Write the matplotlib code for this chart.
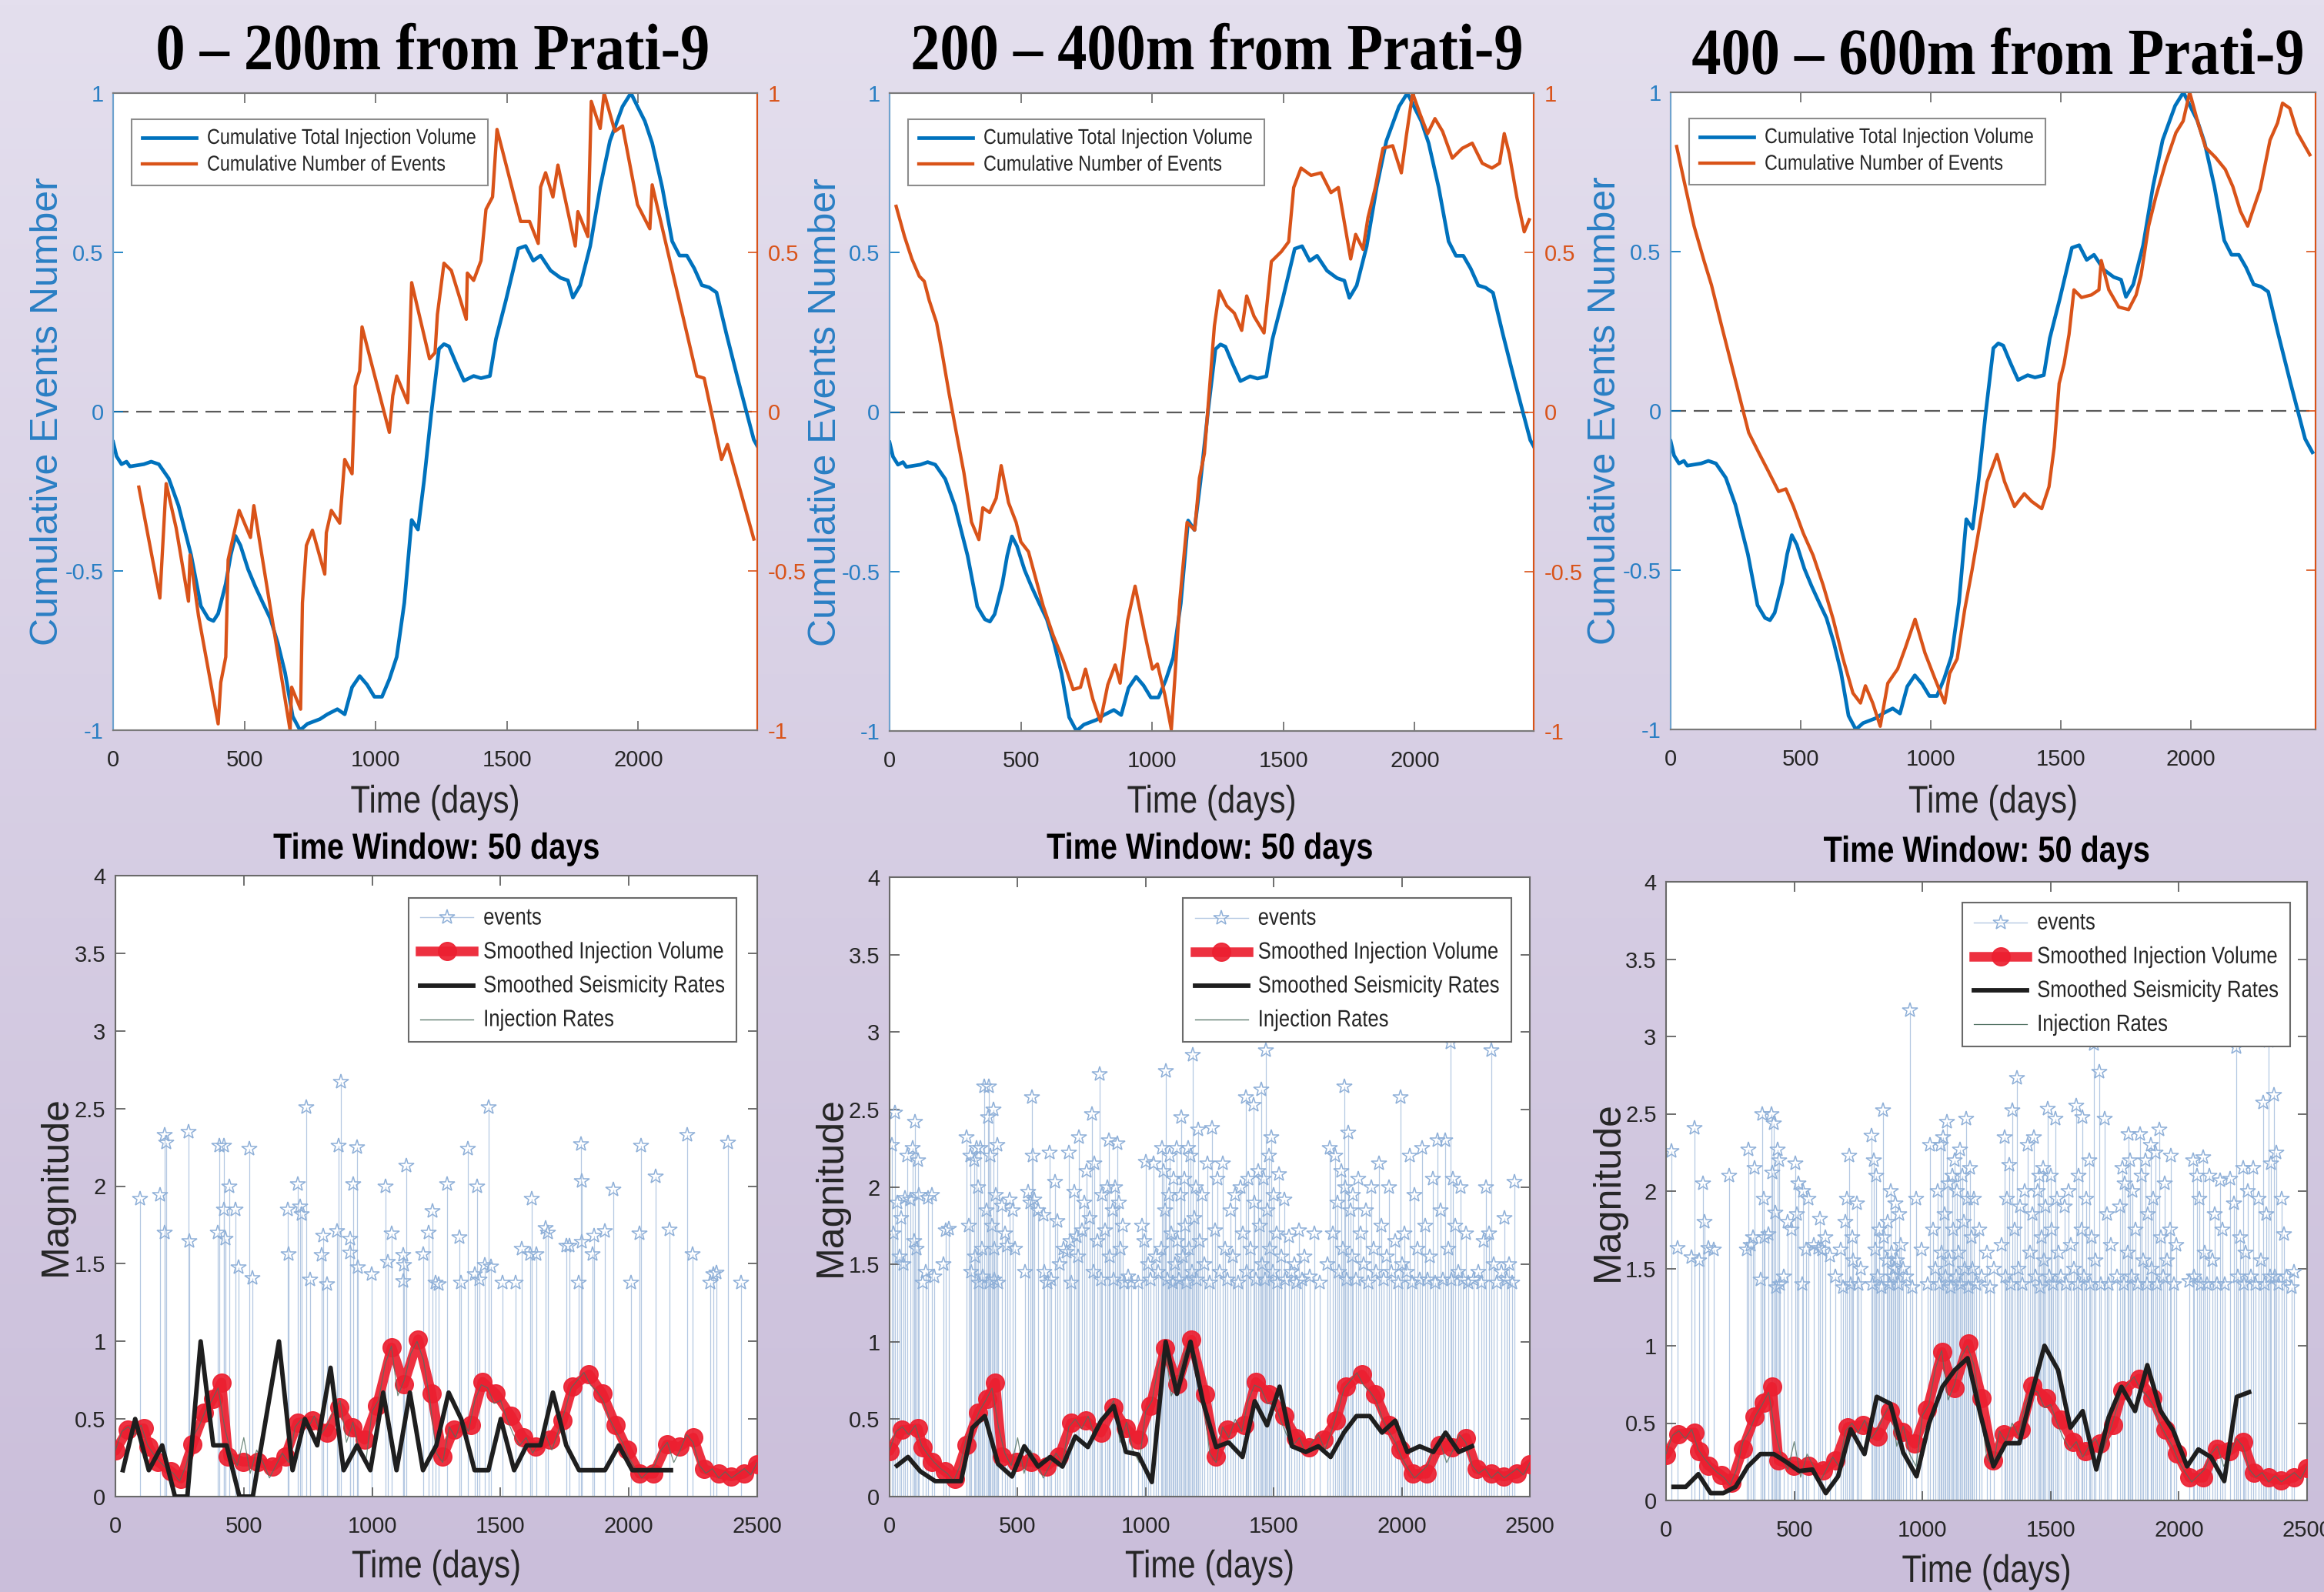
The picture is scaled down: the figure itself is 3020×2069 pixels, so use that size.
import numpy as np
import matplotlib
matplotlib.use("Agg")
import matplotlib.pyplot as plt
from matplotlib.lines import Line2D
from matplotlib import font_manager as fm
from matplotlib.patheffects import AbstractPathEffect
from matplotlib.transforms import Affine2D

# ---------------- DATA ----------------
panel_titles = ["0 \u2013 200m from Prati-9", "200 \u2013 400m from Prati-9", "400 \u2013 600m from Prati-9"]
legend_top = ["Cumulative Total Injection Volume", "Cumulative Number of Events"]
legend_bottom = ["events", "Smoothed Injection Volume", "Smoothed Seismicity Rates", "Injection Rates"]
top_yticks = [-1, -0.5, 0, 0.5, 1]
top_ytick_labels = ["-1", "-0.5", "0", "0.5", "1"]
top_xticks = [0, 500, 1000, 1500, 2000]
bot_xticks = [0, 500, 1000, 1500, 2000, 2500]
bot_yticks = [0, 0.5, 1, 1.5, 2, 2.5, 3, 3.5, 4]
bot_ytick_labels = ["0", "0.5", "1", "1.5", "2", "2.5", "3", "3.5", "4"]

# normalised cumulative total injection volume (same in all three panels)
blue_days = [0, 13, 32, 51, 64, 117, 145, 174, 212, 249, 297, 325, 334, 363, 382, 400, 429, 448, 466, 485,
             514, 542, 570, 599, 627, 655, 684, 712, 740, 788, 816, 854, 882, 910, 939, 967, 995, 1024, 1052, 1080,
             1109, 1137, 1161, 1184, 1212, 1241, 1260, 1279, 1307, 1336, 1373, 1401, 1435, 1458, 1496, 1543, 1571,
             1600, 1628, 1666, 1704, 1732, 1751, 1779, 1817, 1855, 1892, 1940, 1972, 1997, 2025, 2053, 2091, 2129,
             2157, 2185, 2213, 2242, 2270, 2298, 2336, 2383, 2440, 2468]
blue_vals = [-0.095, -0.14, -0.165, -0.157, -0.172, -0.165, -0.157, -0.165, -0.21, -0.295, -0.45, -0.57, -0.61,
             -0.65, -0.657, -0.634, -0.54, -0.45, -0.39, -0.42, -0.495, -0.55, -0.60, -0.65, -0.726, -0.82, -0.957,
             -1.0, -0.98, -0.965, -0.95, -0.934, -0.95, -0.865, -0.83, -0.857, -0.895, -0.895, -0.84, -0.77, -0.60,
             -0.34, -0.37, -0.218, -0.003, 0.197, 0.212, 0.205, 0.15, 0.097, 0.112, 0.105, 0.112, 0.228, 0.35, 0.512,
             0.52, 0.474, 0.49, 0.443, 0.42, 0.412, 0.358, 0.397, 0.52, 0.705, 0.85, 0.958, 1.0, 0.958, 0.912, 0.843,
             0.705, 0.535, 0.49, 0.49, 0.45, 0.397, 0.39, 0.374, 0.243, 0.09, -0.088, -0.13]

# normalised cumulative number of events (day, value)
orange_0_200 = [(98, -0.237), (178, -0.585), (202, -0.226), (240, -0.365), (287, -0.595), (293, -0.45),
                (325, -0.64), (400, -0.98), (410, -0.85), (429, -0.77), (438, -0.465), (480, -0.31), (523, -0.395),
                (536, -0.295), (674, -1.0), (680, -0.865), (714, -0.934), (721, -0.60), (736, -0.42), (759, -0.372),
                (806, -0.51), (812, -0.38), (831, -0.31), (863, -0.35), (882, -0.15), (910, -0.195), (922, 0.08),
                (939, 0.128), (948, 0.266), (1052, -0.065), (1065, 0.05), (1080, 0.112), (1122, 0.028),
                (1137, 0.405), (1205, 0.166), (1226, 0.185), (1235, 0.305), (1260, 0.466), (1288, 0.443),
                (1345, 0.29), (1349, 0.435), (1373, 0.412), (1401, 0.474), (1420, 0.635), (1445, 0.674),
                (1462, 0.886), (1552, 0.597), (1586, 0.597), (1619, 0.528), (1628, 0.705), (1647, 0.75),
                (1675, 0.674), (1694, 0.774), (1760, 0.52), (1770, 0.628), (1808, 0.55), (1821, 0.974),
                (1855, 0.889), (1870, 1.0), (1911, 0.88), (1940, 0.897), (1997, 0.65), (2044, 0.574),
                (2053, 0.712), (2223, 0.112), (2251, 0.105), (2317, -0.15), (2340, -0.103), (2440, -0.40)]
orange_200_400 = [(25, 0.645), (57, 0.55), (85, 0.48), (113, 0.426), (132, 0.41), (151, 0.35), (179, 0.28),
                  (198, 0.195), (227, 0.056), (255, -0.068), (283, -0.19), (312, -0.345), (340, -0.40),
                  (355, -0.30), (381, -0.315), (406, -0.27), (425, -0.168), (453, -0.284), (482, -0.346),
                  (500, -0.407), (529, -0.438), (557, -0.523), (585, -0.608), (623, -0.70), (661, -0.778),
                  (699, -0.87), (727, -0.863), (746, -0.806), (774, -0.90), (803, -0.97), (831, -0.855),
                  (859, -0.793), (878, -0.85), (906, -0.654), (935, -0.546), (973, -0.70), (1001, -0.806),
                  (1020, -0.79), (1048, -0.886), (1073, -0.995), (1086, -0.84), (1105, -0.593), (1133, -0.346),
                  (1162, -0.37), (1180, -0.207), (1199, -0.13), (1218, 0.07), (1237, 0.27), (1256, 0.38),
                  (1284, 0.333), (1313, 0.31), (1341, 0.256), (1360, 0.364), (1388, 0.30), (1426, 0.248),
                  (1454, 0.472), (1492, 0.503), (1520, 0.534), (1539, 0.704), (1567, 0.765), (1605, 0.742),
                  (1643, 0.75), (1681, 0.688), (1709, 0.704), (1756, 0.48), (1775, 0.557), (1803, 0.51),
                  (1822, 0.61), (1850, 0.704), (1879, 0.827), (1916, 0.835), (1949, 0.75), (1968, 0.866),
                  (1992, 1.0), (2020, 0.935), (2049, 0.873), (2077, 0.92), (2106, 0.88), (2143, 0.796),
                  (2181, 0.827), (2219, 0.843), (2257, 0.78), (2294, 0.765), (2323, 0.78), (2341, 0.873),
                  (2360, 0.81), (2389, 0.673), (2417, 0.565), (2436, 0.603)]
orange_400_600 = [(23, 0.83), (52, 0.72), (90, 0.58), (128, 0.472), (157, 0.395), (195, 0.27), (233, 0.148),
                  (271, 0.025), (300, -0.068), (338, -0.13), (376, -0.19), (415, -0.253), (443, -0.245),
                  (472, -0.30), (510, -0.384), (548, -0.454), (586, -0.546), (625, -0.654), (663, -0.778),
                  (701, -0.886), (730, -0.917), (749, -0.863), (777, -0.917), (806, -0.99), (835, -0.855),
                  (873, -0.81), (902, -0.745), (940, -0.654), (978, -0.76), (1016, -0.84), (1054, -0.917),
                  (1073, -0.824), (1102, -0.778), (1131, -0.623), (1159, -0.50), (1188, -0.361), (1217, -0.222),
                  (1255, -0.137), (1284, -0.222), (1322, -0.30), (1360, -0.26), (1388, -0.284), (1427, -0.307),
                  (1455, -0.238), (1475, -0.114), (1494, 0.086), (1513, 0.148), (1532, 0.24), (1551, 0.38),
                  (1580, 0.356), (1618, 0.364), (1647, 0.38), (1656, 0.472), (1685, 0.38), (1723, 0.326),
                  (1761, 0.318), (1790, 0.364), (1809, 0.426), (1838, 0.58), (1866, 0.673), (1904, 0.78),
                  (1943, 0.873), (1971, 0.91), (1996, 1.0), (2028, 0.904), (2057, 0.827), (2095, 0.796),
                  (2133, 0.758), (2162, 0.704), (2191, 0.627), (2219, 0.58), (2238, 0.627), (2267, 0.696),
                  (2305, 0.85), (2334, 0.904), (2353, 0.966), (2381, 0.95), (2410, 0.873), (2458, 0.804)]

# smoothed injection volume (same in all three lower panels)
red_days = [0, 48, 110, 130, 164, 216, 255, 300, 346, 381, 413, 439, 497, 554, 612, 661, 709, 767, 825, 873,
            922, 970, 1018, 1076, 1124, 1179, 1231, 1275, 1318, 1385, 1430, 1482, 1540, 1588, 1637, 1694, 1743,
            1781, 1845, 1897, 1949, 1994, 2042, 2096, 2148, 2197, 2251, 2293, 2351, 2399, 2448, 2500]
red_vals = [0.295, 0.43, 0.44, 0.32, 0.225, 0.163, 0.116, 0.335, 0.54, 0.63, 0.735, 0.257, 0.225, 0.225, 0.194,
            0.257, 0.475, 0.49, 0.413, 0.575, 0.444, 0.366, 0.585, 0.96, 0.726, 1.013, 0.663, 0.257, 0.43, 0.46,
            0.74, 0.663, 0.522, 0.38, 0.32, 0.366, 0.49, 0.71, 0.788, 0.663, 0.46, 0.303, 0.147, 0.147, 0.335,
            0.32, 0.38, 0.178, 0.147, 0.13, 0.147, 0.21]

# injection rates (sampled every 25 days)
inj_vals = [0.30, 0.42, 0.45, 0.40, 0.46, 0.33, 0.27, 0.22, 0.18, 0.15,
            0.10, 0.20, 0.38, 0.45, 0.55, 0.62, 0.70, 0.45, 0.28, 0.20,
            0.38, 0.15, 0.30, 0.22, 0.12, 0.20, 0.28, 0.22, 0.45, 0.50,
            0.44, 0.52, 0.40, 0.46, 0.55, 0.62, 0.35, 0.48, 0.30, 0.22,
            0.55, 0.62, 0.85, 0.97, 0.65, 0.75, 0.92, 1.00, 0.88, 0.62,
            0.28, 0.22, 0.45, 0.38, 0.50, 0.42, 0.62, 0.72, 0.70, 0.60,
            0.62, 0.50, 0.40, 0.33, 0.38, 0.28, 0.35, 0.40, 0.30, 0.42,
            0.55, 0.70, 0.75, 0.80, 0.72, 0.68, 0.62, 0.50, 0.42, 0.35,
            0.25, 0.18, 0.12, 0.16, 0.20, 0.30, 0.35, 0.22, 0.30, 0.40,
            0.35, 0.20, 0.15, 0.18, 0.12, 0.16, 0.12, 0.15, 0.18, 0.14,
            0.22]
inj_days = list(range(0, 2501, 25))

# smoothed seismicity rates, per distance band
black_days_0_200 = [29, 77, 130, 182, 232, 280, 332, 381, 433, 483, 535, 586, 637, 690, 738, 786, 838, 889, 941,
                    993, 1043, 1095, 1147, 1198, 1250, 1298, 1347, 1399, 1453, 1501, 1553, 1602, 1656, 1704, 1756,
                    1806, 1859, 1907, 1961, 2013, 2061, 2110, 2164]
black_vals_0_200 = [0.17, 0.5, 0.17, 0.33, 0, 0, 1, 0.33, 0.33, 0, 0, 0.5, 1, 0.17, 0.5, 0.33, 0.83, 0.17, 0.33,
                    0.17, 0.67, 0.17, 0.67, 0.17, 0.33, 0.67, 0.5, 0.17, 0.17, 0.5, 0.17, 0.33, 0.33, 0.67, 0.33,
                    0.17, 0.17, 0.17, 0.33, 0.17, 0.17, 0.17, 0.17]
black_days_200_400 = [29, 72, 120, 178, 226, 279, 323, 372, 424, 478, 526, 580, 627, 675, 725, 774, 826, 875,
                      923, 971, 1024, 1078, 1122, 1175, 1223, 1275, 1324, 1378, 1426, 1474, 1523, 1571, 1625,
                      1674, 1722, 1774, 1823, 1875, 1923, 1974, 2022, 2070, 2123, 2171, 2223, 2274]
black_vals_200_400 = [0.20, 0.256, 0.163, 0.10, 0.10, 0.10, 0.444, 0.52, 0.21, 0.13, 0.325, 0.194, 0.256, 0.194,
                      0.388, 0.32, 0.49, 0.585, 0.288, 0.272, 0.094, 1.0, 0.663, 1.0, 0.616, 0.32, 0.35, 0.256,
                      0.616, 0.46, 0.71, 0.325, 0.288, 0.325, 0.256, 0.413, 0.52, 0.52, 0.413, 0.49, 0.288,
                      0.325, 0.288, 0.413, 0.288, 0.325]
black_days_400_600 = [29, 77, 126, 174, 223, 271, 319, 368, 420, 468, 519, 571, 623, 671, 720, 774, 822, 875,
                      925, 977, 1026, 1078, 1126, 1176, 1225, 1277, 1325, 1378, 1426, 1476, 1529, 1577, 1625,
                      1678, 1726, 1776, 1829, 1877, 1929, 1978, 2032, 2076, 2125, 2177, 2226, 2274]
black_vals_400_600 = [0.088, 0.088, 0.17, 0.047, 0.047, 0.088, 0.22, 0.30, 0.30, 0.25, 0.19, 0.20, 0.047, 0.156,
                      0.46, 0.30, 0.67, 0.625, 0.31, 0.156, 0.50, 0.735, 0.843, 0.92, 0.563, 0.22, 0.37, 0.37,
                      0.69, 1.0, 0.843, 0.47, 0.578, 0.20, 0.537, 0.735, 0.578, 0.875, 0.578, 0.453, 0.22, 0.33,
                      0.28, 0.125, 0.67, 0.70]

# events (day, magnitude)
events_0_200 = [(97, 1.92), (174, 1.945), (191, 2.33), (197, 2.28), (191, 1.70), (284, 2.35), (288, 1.645),
                (400, 1.70), (404, 2.26), (423, 2.26), (423, 1.85), (429, 1.66), (444, 2.0), (469, 1.85),
                (481, 1.476), (522, 2.24), (535, 1.41), (670, 1.85), (674, 1.56), (709, 2.01), (719, 1.867),
                (724, 1.82), (742, 2.51), (757, 1.40), (802, 1.554), (810, 1.68), (825, 1.367), (864, 1.71),
                (869, 2.26), (877, 2.67), (914, 1.66), (914, 1.57), (925, 2.01), (941, 2.25), (945, 1.476),
                (999, 1.43), (1051, 2.0), (1061, 1.51), (1076, 1.695), (1121, 1.554), (1124, 1.49), (1121, 1.39),
                (1134, 2.13), (1198, 1.56), (1221, 1.70), (1235, 1.84), (1246, 1.38), (1260, 1.367), (1292, 2.01),
                (1341, 1.67), (1347, 1.38), (1372, 2.24), (1401, 1.43), (1408, 2.0), (1418, 1.40), (1439, 1.49),
                (1453, 2.51), (1462, 1.48), (1507, 1.38), (1559, 1.38), (1582, 1.595), (1621, 1.92), (1617, 1.56),
                (1640, 1.56), (1675, 1.73), (1685, 1.70), (1758, 1.617), (1768, 1.617), (1805, 1.38), (1814, 2.27),
                (1816, 2.03), (1816, 1.64), (1859, 1.56), (1864, 1.68), (1907, 1.71), (1940, 1.98), (2007, 1.38),
                (2042, 1.695), (2048, 2.26), (2104, 2.06), (2158, 1.72), (2226, 2.33), (2249, 1.56), (2316, 1.38),
                (2328, 1.43), (2342, 1.44), (2386, 2.28), (2438, 1.38)]
events_200_400 = [
    (10, 2.27), (15, 1.7), (20, 2.48), (30, 1.9), (40, 1.55), (45, 1.8), (55, 1.5), (60, 1.93), (70, 2.2),
    (80, 1.92), (90, 2.25), (95, 1.65), (100, 2.42), (105, 1.6), (110, 2.17), (115, 1.95), (130, 1.38),
    (140, 1.45), (150, 1.93), (165, 1.95), (175, 1.42), (210, 1.5), (220, 1.72), (230, 1.73),
    (300, 2.32), (310, 1.75), (315, 2.2), (320, 1.45), (330, 2.17), (335, 1.55), (340, 2.25), (345, 2.0),
    (350, 1.38), (355, 2.25), (360, 1.6), (365, 1.42), (370, 2.65), (380, 1.85), (385, 2.45), (388, 2.65),
    (392, 1.38), (395, 2.2), (400, 1.75), (405, 2.5), (408, 1.6), (410, 1.4), (415, 1.95), (420, 2.27),
    (425, 1.38), (440, 1.88), (450, 1.7), (460, 1.62), (470, 1.92), (480, 1.85), (490, 1.6),
    (530, 1.45), (540, 1.97), (550, 1.9), (555, 2.58), (560, 2.2), (565, 1.92), (580, 1.85), (600, 1.82),
    (605, 1.45), (615, 1.38), (625, 2.22), (630, 1.4), (645, 2.03), (655, 1.78), (665, 1.5), (680, 1.6),
    (690, 1.58), (700, 2.22), (705, 1.65), (710, 1.38),
    (720, 1.97), (730, 1.68), (735, 1.55), (740, 2.32), (750, 1.72), (760, 1.9), (770, 2.1), (780, 1.8),
    (790, 2.47), (795, 1.45), (800, 2.15), (810, 1.65), (820, 2.73), (825, 1.4), (830, 1.95), (840, 1.72),
    (850, 2.0), (855, 2.3), (860, 1.55), (870, 1.85), (875, 1.4), (880, 2.0), (890, 2.28), (895, 1.9),
    (900, 1.6), (910, 1.75), (915, 1.38), (930, 1.42), (945, 1.38), (970, 1.38), (985, 1.75), (995, 1.65),
    (1000, 2.16),
    (1010, 1.5), (1020, 1.4), (1030, 2.15), (1040, 1.55), (1050, 1.45), (1060, 1.6), (1065, 2.25),
    (1070, 2.1), (1075, 1.85), (1080, 2.75), (1085, 1.4), (1090, 1.95), (1095, 2.2), (1100, 1.7),
    (1105, 1.38), (1110, 2.05), (1115, 1.5), (1120, 2.25), (1125, 1.65), (1130, 1.4), (1135, 1.95),
    (1140, 2.45), (1145, 1.55), (1150, 2.05), (1155, 1.75), (1160, 1.38), (1165, 2.25), (1170, 1.6),
    (1175, 2.2), (1180, 1.45), (1185, 2.85), (1190, 1.8), (1195, 2.0), (1200, 1.4), (1205, 2.37),
    (1210, 1.65), (1220, 1.95), (1230, 1.5), (1240, 2.15), (1250, 1.38), (1260, 2.38), (1270, 1.72),
    (1280, 2.05), (1290, 1.45), (1300, 2.15),
    (1310, 1.6), (1320, 1.4), (1330, 1.85), (1340, 1.55), (1350, 1.95), (1360, 1.38), (1370, 2.0),
    (1380, 1.7), (1390, 2.58), (1395, 1.45), (1400, 2.05), (1410, 1.6), (1420, 2.53), (1425, 1.9),
    (1430, 1.4), (1440, 2.1), (1445, 1.75), (1450, 2.63), (1455, 1.5), (1460, 2.05), (1465, 1.4),
    (1470, 2.88), (1475, 1.85), (1480, 2.2), (1485, 1.6), (1490, 2.32), (1495, 1.45), (1500, 1.95),
    (1510, 1.7), (1515, 1.38), (1520, 2.08), (1530, 1.55), (1540, 1.92), (1545, 1.4),
    (1560, 1.68), (1570, 1.45), (1580, 1.5), (1590, 1.38), (1600, 1.72), (1610, 1.4), (1620, 1.55),
    (1640, 1.42), (1660, 1.7), (1680, 1.38),
    (1710, 1.5), (1720, 2.25), (1730, 1.7), (1740, 2.2), (1750, 1.9), (1755, 1.45), (1765, 2.1),
    (1770, 1.6), (1775, 2.65), (1780, 2.0), (1785, 1.4), (1790, 2.35), (1800, 1.85), (1805, 1.55),
    (1810, 1.95), (1820, 1.4), (1830, 2.05), (1840, 1.7), (1850, 1.5), (1860, 1.85), (1870, 1.38),
    (1880, 2.0), (1890, 1.6), (1900, 1.45), (1910, 2.15), (1920, 1.75), (1930, 1.4), (1940, 1.55),
    (1950, 2.0), (1960, 1.45), (1975, 1.65), (1985, 1.38), (1995, 2.58), (2000, 1.5),
    (2010, 1.7), (2020, 1.45), (2030, 2.2), (2040, 1.38), (2050, 1.95), (2060, 1.6), (2070, 1.4),
    (2080, 2.25), (2090, 1.75), (2100, 1.4), (2110, 1.55), (2120, 2.05), (2130, 1.38), (2140, 2.3),
    (2150, 1.85), (2160, 1.4), (2170, 2.3), (2180, 1.6), (2190, 2.93), (2195, 1.4), (2200, 2.05),
    (2210, 1.75), (2220, 1.45), (2230, 2.0), (2240, 1.4), (2250, 1.7), (2260, 1.38), (2280, 1.4),
    (2300, 1.45), (2310, 1.38), (2320, 1.65), (2330, 2.0), (2340, 1.7), (2350, 2.88), (2360, 1.5),
    (2370, 1.38), (2390, 1.45), (2400, 1.8), (2410, 1.4), (2420, 1.5), (2430, 1.38), (2440, 2.03)]
events_400_600 = [
    (20, 2.26), (45, 1.63), (100, 1.57), (110, 2.41), (130, 1.55), (145, 2.05), (150, 1.8), (165, 1.63),
    (185, 1.62), (245, 2.1),
    (315, 1.62), (320, 2.27), (330, 1.65), (340, 1.7), (345, 2.15), (370, 1.43), (375, 2.5), (380, 1.95),
    (385, 1.7), (400, 1.72), (410, 2.5), (415, 2.12), (420, 2.44), (425, 1.86), (430, 1.38), (435, 2.27),
    (440, 2.2), (445, 1.4), (460, 1.45), (475, 1.8), (490, 1.75), (505, 2.18), (510, 1.85), (515, 2.05),
    (530, 1.4), (535, 2.0), (545, 1.62), (555, 1.95),
    (575, 1.65), (595, 1.63), (600, 1.82), (610, 1.62), (620, 1.7), (640, 1.58), (660, 1.45), (680, 1.62),
    (690, 1.38), (700, 1.8), (705, 1.95), (715, 2.23), (720, 1.4), (725, 1.7), (730, 1.55), (745, 1.92),
    (750, 1.4), (760, 1.5),
    (800, 2.36), (805, 1.4), (810, 2.2), (815, 1.62), (820, 2.1), (825, 1.45), (830, 1.75), (840, 1.38),
    (845, 2.52), (850, 1.7), (860, 1.55), (865, 1.8), (870, 1.4), (875, 2.0), (880, 1.6), (885, 1.45),
    (890, 1.5), (895, 1.92), (900, 1.55), (905, 1.4), (910, 1.85), (915, 1.65), (925, 1.5), (935, 1.45),
    (950, 3.17), (960, 1.38), (975, 1.95), (995, 1.62),
    (1020, 1.4), (1030, 2.3), (1040, 1.75), (1050, 1.5), (1060, 2.0), (1065, 1.4), (1070, 2.3),
    (1075, 1.6), (1080, 2.35), (1085, 1.85), (1090, 1.45), (1095, 2.45), (1100, 2.05), (1105, 1.55),
    (1110, 1.38), (1115, 2.1), (1120, 1.75), (1125, 2.2), (1130, 1.45), (1135, 2.0), (1140, 1.6),
    (1145, 2.27), (1150, 1.4), (1155, 2.1), (1160, 1.8), (1165, 1.5), (1170, 2.47), (1175, 1.95),
    (1180, 1.38), (1185, 2.15), (1190, 1.7), (1195, 1.5), (1200, 1.95), (1210, 1.4), (1220, 1.75),
    (1230, 1.45), (1250, 1.6), (1265, 1.38), (1280, 1.5),
    (1310, 1.65), (1320, 2.35), (1325, 1.45), (1330, 1.95), (1340, 2.17), (1345, 1.4), (1350, 2.52),
    (1360, 1.75), (1370, 2.73), (1375, 1.5), (1380, 1.9), (1390, 1.4), (1400, 2.0), (1410, 2.3),
    (1420, 1.6), (1430, 1.85), (1435, 2.35), (1440, 1.45), (1450, 2.0), (1455, 2.1), (1460, 1.38),
    (1465, 1.7), (1470, 2.15), (1475, 1.55), (1480, 1.9), (1490, 2.53), (1495, 1.45), (1500, 2.1),
    (1505, 1.75), (1510, 1.4), (1520, 2.47), (1525, 1.95), (1530, 1.6), (1540, 1.45),
    (1555, 1.9), (1560, 1.4), (1570, 2.0), (1580, 1.65), (1590, 1.5), (1600, 2.55), (1605, 1.4),
    (1610, 2.1), (1620, 1.75), (1625, 2.48), (1630, 1.45), (1640, 1.95), (1650, 2.2), (1655, 1.4),
    (1660, 1.7), (1670, 2.95), (1675, 1.55), (1690, 2.77), (1695, 1.4), (1710, 2.47), (1720, 1.85),
    (1725, 1.4), (1735, 1.65),
    (1760, 1.45), (1770, 1.9), (1780, 2.15), (1785, 1.4), (1790, 2.05), (1800, 1.6), (1805, 2.37),
    (1810, 2.2), (1815, 1.45), (1820, 2.0), (1830, 1.75), (1840, 1.4), (1850, 2.37), (1855, 2.1),
    (1860, 1.55), (1870, 2.2), (1875, 1.4), (1880, 1.85), (1890, 2.3), (1895, 1.5), (1900, 1.95),
    (1910, 2.25), (1915, 1.4), (1925, 2.4), (1930, 1.7), (1940, 1.45), (1945, 2.05), (1955, 1.55),
    (1965, 1.75), (1970, 2.23), (1980, 1.4), (1990, 1.65),
    (2040, 1.42), (2055, 2.2), (2060, 1.45), (2070, 2.1), (2080, 1.95), (2085, 1.4), (2095, 2.22),
    (2100, 1.6), (2110, 1.4), (2120, 2.1), (2130, 1.55), (2140, 1.85), (2150, 1.4), (2160, 2.07),
    (2170, 1.75), (2180, 1.4), (2200, 2.08), (2215, 1.92), (2225, 2.93), (2230, 1.45), (2240, 1.7),
    (2250, 2.15), (2255, 1.4), (2260, 1.6), (2270, 2.0), (2280, 1.45), (2290, 2.15), (2300, 1.4),
    (2310, 1.95), (2320, 1.55), (2330, 2.57), (2335, 1.4), (2340, 1.85), (2350, 2.97), (2355, 1.45),
    (2360, 2.18), (2370, 2.62), (2375, 1.45), (2380, 2.25), (2390, 1.4), (2400, 1.95), (2410, 1.72),
    (2420, 1.45), (2440, 1.38), (2450, 1.48)]

# ---------------- STYLE / LAYOUT ----------------
_names = {f.name for f in fm.fontManager.ttflist}
HAVE_NARROW = "Liberation Sans Narrow" in _names
NARROW = "Liberation Sans Narrow" if HAVE_NARROW else "Liberation Sans"
NS = 1.0 if HAVE_NARROW else 0.84
SY = 1.0 if HAVE_NARROW else 1.0 / 0.84
NARROW_FAM = [NARROW, "DejaVu Sans"]
SERIF_FAM = ["Liberation Serif", "DejaVu Serif"]

plt.rcParams["font.family"] = ["Liberation Sans", "DejaVu Sans"]


class VStretch(AbstractPathEffect):
    """Stretch glyphs vertically about the baseline (emulates the condensed look)."""

    def __init__(self, sy):
        super().__init__()
        self._sy = sy

    def draw_path(self, renderer, gc, tpath, affine, rgbFace=None):
        renderer.draw_path(gc, tpath, Affine2D().scale(1.0, self._sy) + affine, rgbFace)


def stretch(text_obj, sy):
    if abs(sy - 1.0) > 1e-6:
        text_obj.set_path_effects([VStretch(sy)])
    return text_obj


BLUE = "#0072BD"
BLUE_TXT = "#2a7fc4"
ORANGE = "#D95319"
RED = "#EC1F30"
STEM = "#b4c8e2"
STAR = "#8fb0d8"
DARK = "#262626"

W, H = 3020, 2069
fig = plt.figure(figsize=(W / 100, H / 100), dpi=100)


def rect(l, t, r, b):
    return [l / W, 1 - b / H, (r - l) / W, (b - t) / H]


def fx(x):
    return x / W


def fy(y):
    return 1 - y / H


# gradient background
bg = fig.add_axes([0, 0, 1, 1], zorder=-10)
ctop = np.array([228, 223, 238]) / 255.0
cbot = np.array([202, 190, 218]) / 255.0
tt = np.linspace(0, 1, 300)[:, None, None]
bg.imshow(ctop * (1 - tt) + cbot * tt, aspect="auto", extent=[0, 1, 0, 1])
bg.set_axis_off()


def top_panel(r, orange, xmax, title, title_xy, ylab_x, show_right_labels=True):
    ax = fig.add_axes(rect(*r))
    ax.set_facecolor("white")
    ax.axhline(0, color="#5a5a5a", lw=1.6, ls=(0, (9, 4.5)), zorder=1)
    lb, = ax.plot(blue_days, blue_vals, color=BLUE, lw=3.4, zorder=3)
    ax.set_xlim(0, xmax)
    ax.set_ylim(-1, 1)
    ax2 = ax.twinx()
    lo, = ax2.plot([p[0] for p in orange], [p[1] for p in orange], color=ORANGE, lw=3.1)
    ax2.set_ylim(-1, 1)
    ax.set_yticks(top_yticks)
    ax.set_yticklabels(top_ytick_labels)
    ax2.set_yticks(top_yticks)
    ax2.set_yticklabels(top_ytick_labels)
    ax.set_xticks(top_xticks)
    ax.tick_params(axis="y", direction="in", length=9, width=1.2, color=BLUE, labelcolor=BLUE_TXT,
                   labelsize=21, pad=9)
    ax2.tick_params(axis="y", direction="in", length=9, width=1.2, color=ORANGE, labelcolor=ORANGE,
                    labelsize=21, pad=10, labelright=show_right_labels)
    ax.tick_params(axis="x", direction="in", length=9, width=1.2, color="#666666", labelcolor=DARK,
                   labelsize=21, pad=18, top=True)
    for a in (ax, ax2):
        for s in a.spines.values():
            s.set_linewidth(1.5)
            s.set_color("#7a7a7a")
    ax2.spines["right"].set_color(ORANGE)
    ax2.spines["left"].set_color("#6fa3cf")
    leg = ax2.legend([lb, lo], legend_top, loc="upper left", bbox_to_anchor=(0.0287, 0.959),
                     borderaxespad=0, frameon=True, fancybox=False, edgecolor="#8c8c8c", framealpha=1,
                     prop={"family": NARROW_FAM, "size": 20 * NS}, handlelength=3.0, handletextpad=0.6,
                     labelspacing=0.5, borderpad=0.6)
    leg.get_frame().set_linewidth(1.5)
    for t in leg.get_texts():
        t.set_color(DARK)
        stretch(t, SY)
    tt_ = fig.text(fx(title_xy[0]), fy(title_xy[1] + 22), title, family=SERIF_FAM, weight="bold", size=55,
                   ha="center", va="baseline", color="black")
    stretch(tt_, 1.12)
    cx = (r[0] + r[2]) / 2
    fig.text(fx(ylab_x), fy((r[1] + r[3]) / 2), "Cumulative Events Number", rotation=90, size=36,
             color=BLUE_TXT, ha="center", va="center")
    xl = fig.text(fx(cx), fy(1056), "Time (days)", family=NARROW_FAM, size=36 * NS, color=DARK,
                  ha="center", va="baseline")
    stretch(xl, SY)


def bottom_panel(r, events, bdays, bvals, leg_anchor, title_y, ylab_x, xlab_y):
    ax = fig.add_axes(rect(*r))
    ax.set_facecolor("white")
    ed = [e[0] for e in events]
    em = [e[1] for e in events]
    ax.vlines(ed, 0, em, color=STEM, lw=0.9, zorder=1)
    ax.plot(ed, em, ls="none", marker="*", ms=15, mfc="none", mec=STAR, mew=1.1, zorder=2)
    ax.plot(red_days, red_vals, color=RED, lw=9, marker="o", ms=17, alpha=0.92, zorder=3,
            solid_joinstyle="round", solid_capstyle="round")
    ax.plot(inj_days, inj_vals, color="#4f6f60", lw=0.9, alpha=0.8, zorder=4)
    ax.plot(bdays, bvals, color="#1e1e1e", lw=4.2, zorder=5)
    ax.set_xlim(0, 2500)
    ax.set_ylim(0, 4)
    ax.set_xticks(bot_xticks)
    ax.set_yticks(bot_yticks)
    ax.set_yticklabels(bot_ytick_labels)
    ax.tick_params(axis="both", direction="in", length=9, width=1.2, color="#555555", labelcolor=DARK,
                   labelsize=21, top=True, right=True)
    ax.tick_params(axis="x", pad=18)
    ax.tick_params(axis="y", pad=9)
    for s in ax.spines.values():
        s.set_linewidth(1.5)
        s.set_color("#6a6a6a")
    handles = [
        Line2D([], [], color=STEM, lw=1.0, marker="*", ms=15, mfc="none", mec=STAR, mew=1.1),
        Line2D([], [], color=RED, lw=9, marker="o", ms=17, alpha=0.92),
        Line2D([], [], color="#1e1e1e", lw=4.2),
        Line2D([], [], color="#4f6f60", lw=0.9),
    ]
    leg = ax.legend(handles, legend_bottom, loc="upper right", bbox_to_anchor=leg_anchor, borderaxespad=0,
                    frameon=True, fancybox=False, edgecolor="#6a6a6a", framealpha=1,
                    prop={"family": NARROW_FAM, "size": 22 * NS}, handlelength=2.7, handletextpad=0.5,
                    labelspacing=0.78, borderpad=0.6)
    leg.get_frame().set_linewidth(1.5)
    for t in leg.get_texts():
        t.set_color(DARK)
        stretch(t, SY)
    cx = (r[0] + r[2]) / 2
    ti = fig.text(fx(cx), fy(title_y + 15), "Time Window: 50 days", family=NARROW_FAM, weight="bold",
                  size=34 * NS, color="black", ha="center", va="baseline")
    stretch(ti, SY)
    fig.text(fx(ylab_x), fy((r[1] + r[3]) / 2), "Magnitude", rotation=90, size=36, color=DARK,
             ha="center", va="center")
    xl = fig.text(fx(cx), fy(xlab_y + 14), "Time (days)", family=NARROW_FAM, size=36 * NS, color=DARK,
                  ha="center", va="baseline")
    stretch(xl, SY)


top_panel((147, 121, 984, 949), orange_0_200, 2453, panel_titles[0], (562, 68), 62)
top_panel((1156, 121, 1993, 950), orange_200_400, 2453, panel_titles[1], (1581, 68), 1073)
top_panel((2171, 120, 3009, 948), orange_400_600, 2480, panel_titles[2], (2596, 74), 2086,
          show_right_labels=False)

bottom_panel((150, 1138, 984, 1945), events_0_200, black_days_0_200, black_vals_0_200,
             (0.968, 0.964), 1101, 73, 2036)
bottom_panel((1156, 1140, 1988, 1945), events_200_400, black_days_200_400, black_vals_200_400,
             (0.971, 0.966), 1101, 1080, 2036)
bottom_panel((2165, 1146, 2998, 1950), events_400_600, black_days_400_600, black_vals_400_600,
             (0.974, 0.966), 1105, 2090, 2042)

fig.savefig("out.png", dpi=100)
